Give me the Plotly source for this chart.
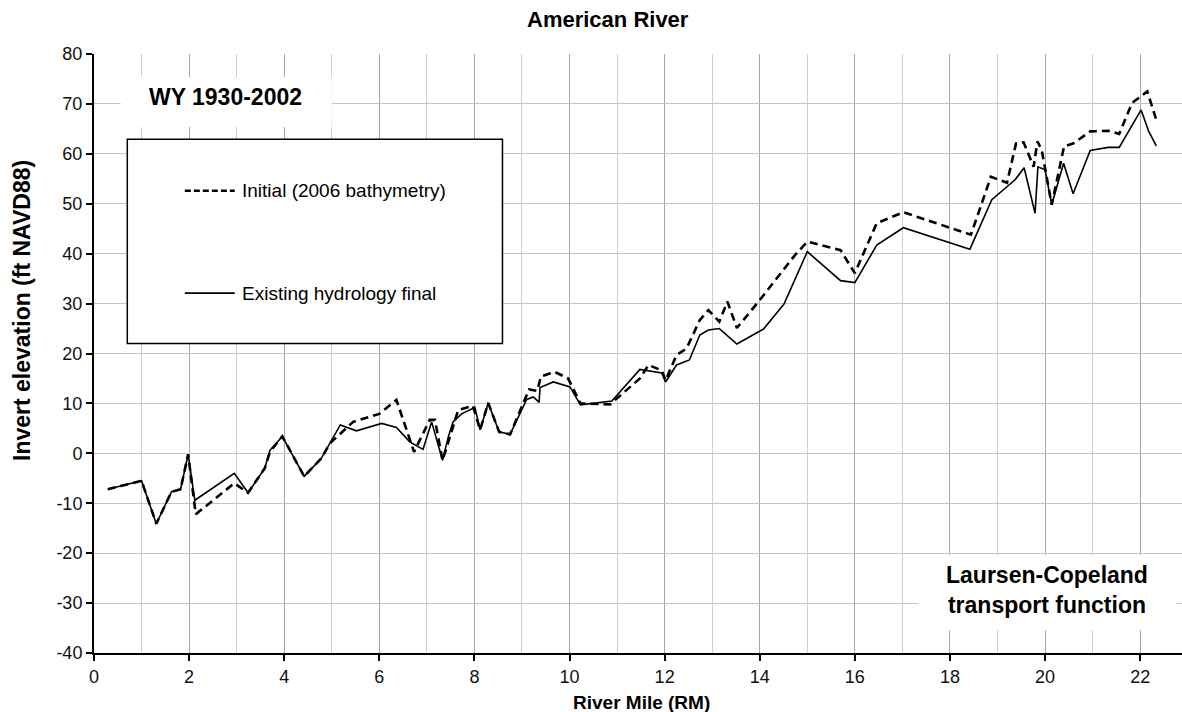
import plotly.graph_objects as go

# ---- data ----
rm_final = [0.29, 1.0, 1.31, 1.63, 1.82, 1.98, 2.12, 2.95, 3.24, 3.59, 3.70, 3.96, 4.42, 4.78,
            5.18, 5.52, 6.05, 6.36, 6.64, 6.92, 7.10, 7.33, 7.45, 7.55, 7.73, 8.01, 8.12, 8.29,
            8.52, 8.75, 9.10, 9.24, 9.36, 9.38, 9.66, 10.01, 10.23, 10.89, 11.48, 11.94, 12.02,
            12.25, 12.52, 12.74, 12.92, 13.15, 13.52, 14.08, 14.51, 15.0, 15.70, 16.0, 16.46,
            17.02, 18.42, 18.88, 19.37, 19.56, 19.79, 19.85, 20.0, 20.14, 20.39, 20.59, 20.95,
            21.33, 21.56, 22.02, 22.18, 22.34]
elev_final = [-7.2, -5.5, -14.1, -7.7, -7.2, -0.2, -9.4, -4.0, -7.9, -3.0, 0.6, 3.4, -4.6, -1.0,
              5.7, 4.5, 6.0, 5.2, 2.3, 0.8, 6.3, -1.4, 3.3, 6.3, 7.9, 9.2, 4.7, 10.1,
              4.3, 3.8, 10.8, 11.3, 10.2, 13.2, 14.3, 13.3, 9.7, 10.5, 16.8, 16.1, 14.3,
              17.7, 18.7, 23.7, 24.7, 25.0, 21.9, 24.9, 29.9, 40.4, 34.6, 34.2, 41.7,
              45.2, 40.9, 50.8, 54.8, 57.2, 48.1, 57.4, 56.8, 49.8, 58.1, 52.0, 60.7,
              61.3, 61.3, 68.8, 64.5, 61.6]

rm_initial = [0.29, 1.0, 1.31, 1.63, 1.82, 1.98, 2.14, 2.95, 3.24, 3.59, 3.70, 3.96, 4.42, 4.78,
              4.96, 5.45, 6.0, 6.36, 6.73, 7.06, 7.17, 7.33, 7.66, 7.97, 8.12, 8.29, 8.52, 8.75,
              9.15, 9.32, 9.40, 9.69, 9.97, 10.23, 10.85, 11.2, 11.48, 11.66, 11.94, 12.02,
              12.25, 12.46, 12.74, 12.92, 13.15, 13.32, 13.52, 14.0, 14.74, 15.0, 15.70, 16.0,
              16.46, 17.02, 18.44, 18.67, 18.86, 19.2, 19.39, 19.55, 19.76, 19.84, 19.93, 20.14,
              20.40, 20.6, 20.95, 21.33, 21.56, 21.83, 22.15, 22.35]
elev_initial = [-7.2, -5.5, -14.1, -7.7, -7.2, -0.2, -12.2, -6.0, -7.9, -3.0, 0.3, 3.4, -4.6, -1.0,
                2.0, 6.3, 7.9, 10.7, 0.3, 6.7, 6.7, -1.4, 8.7, 9.5, 4.7, 10.1, 4.3, 3.8,
                12.8, 12.5, 15.4, 16.3, 15.0, 10.0, 9.8, 12.8, 15.0, 17.7, 16.6, 14.6,
                19.7, 21.0, 26.7, 28.7, 26.4, 30.4, 25.1, 30.7, 39.7, 42.4, 40.7, 36.1,
                46.1, 48.3, 43.8, 50.1, 55.4, 54.2, 62.1, 62.3, 57.4, 62.5, 60.8, 49.8,
                61.5, 62.1, 64.5, 64.6, 64.0, 70.2, 72.5, 66.5]

series_names = ["Initial (2006 bathymetry)", "Existing hydrology final"]
x_ticks = list(range(0, 23, 2))
x_tick_labels = [str(v) for v in x_ticks]
y_ticks = list(range(-40, 81, 10))
y_tick_labels = ["-40", "-30", "-20", "-10", "0", "10", "20", "30", "40", "50", "60", "70", "80"]

FONT = "Liberation Sans, Arial, sans-serif"

fig = go.Figure()
fig.add_trace(go.Scatter(x=rm_final, y=elev_final, mode="lines", name=series_names[1],
                         line=dict(color="black", width=1.6), showlegend=False))
fig.add_trace(go.Scatter(x=rm_initial, y=elev_initial, mode="lines", name=series_names[0],
                         line=dict(color="black", width=2.6, dash="8px,5px"), showlegend=False))

# Custom legend box (data coordinates)
fig.add_shape(type="rect", x0=0.70, x1=8.59, y0=22.0, y1=62.9, xref="x", yref="y",
              fillcolor="white", line=dict(color="black", width=1.5), layer="above")
fig.add_shape(type="line", x0=1.91, x1=2.96, y0=52.6, y1=52.6, xref="x", yref="y",
              line=dict(color="black", width=2.6, dash="6px,3px"), layer="above")
fig.add_shape(type="line", x0=1.91, x1=2.96, y0=32.1, y1=32.1, xref="x", yref="y",
              line=dict(color="black", width=1.6), layer="above")
fig.add_annotation(x=3.06, y=52.6, xref="x", yref="y", text=series_names[0], showarrow=False,
                   xanchor="left", yanchor="middle", font=dict(family=FONT, size=19, color="black"))
fig.add_annotation(x=3.06, y=32.1, xref="x", yref="y", text=series_names[1], showarrow=False,
                   xanchor="left", yanchor="middle", font=dict(family=FONT, size=19, color="black"))

# WY box
fig.add_shape(type="rect", x0=0.56, x1=5.0, y0=65.4, y1=75.4, xref="x", yref="y",
              fillcolor="white", line=dict(width=0), layer="above")
fig.add_annotation(x=2.76, y=71.4, xref="x", yref="y", text="<b>WY 1930-2002</b>", showarrow=False,
                   xanchor="center", yanchor="middle", font=dict(family=FONT, size=23, color="black"))

# Laursen box
fig.add_shape(type="rect", x0=17.33, x1=22.76, y0=-35.45, y1=-20.3, xref="x", yref="y",
              fillcolor="white", line=dict(width=0), layer="above")
fig.add_annotation(x=20.04, y=-27.4, xref="x", yref="y",
                   text="<b>Laursen-Copeland<br>transport function</b>", showarrow=False,
                   xanchor="center", yanchor="middle", align="center",
                   font=dict(family=FONT, size=23, color="black"))

W, H = 1182, 712
L, R, T, B = 94, 0, 54, 59
pw, ph = W - L - R, H - T - B

def px_to_paper(px, py):
    return (px - L) / pw, (H - B - py) / ph

tx, ty = px_to_paper(608, 19)
fig.add_annotation(x=tx, y=ty, xref="paper", yref="paper", text="<b>American River</b>",
                   showarrow=False, xanchor="center", yanchor="middle",
                   font=dict(family=FONT, size=22, color="black"))

ax, ay = px_to_paper(641, 702)
fig.add_annotation(x=ax, y=ay, xref="paper", yref="paper", text="<b>River Mile (RM)</b>",
                   showarrow=False, xanchor="center", yanchor="middle",
                   font=dict(family=FONT, size=19, color="black"))
yx, yy = px_to_paper(22, 311)
fig.add_annotation(x=yx, y=yy, xref="paper", yref="paper", text="<b>Invert elevation (ft NAVD88)</b>",
                   showarrow=False, xanchor="center", yanchor="middle", textangle=-90,
                   font=dict(family=FONT, size=23, color="black"))

fig.update_layout(
    width=W, height=H,
    margin=dict(l=L, r=R, t=T, b=B),
    paper_bgcolor="white", plot_bgcolor="white",
    font=dict(family=FONT, size=18, color="#111"),
    xaxis=dict(range=[0, 22.88], tickvals=x_ticks, ticktext=x_tick_labels, ticks="outside",
               ticklen=6, tickwidth=1.5,
               tickcolor="black", showline=True, linecolor="black", linewidth=2,
               showgrid=True, gridcolor="#a8a8a8", gridwidth=1.2, zeroline=False,
               minor=dict(dtick=1, showgrid=True, gridcolor="#cfcfcf", gridwidth=1.2),
               tickfont=dict(family=FONT, size=18, color="#111")),
    yaxis=dict(range=[-40, 80], tickvals=y_ticks, ticktext=y_tick_labels, ticks="outside",
               ticklen=6, tickwidth=1.5,
               tickcolor="black", showline=True, linecolor="black", linewidth=2,
               showgrid=True, gridcolor="#c4c4c4", gridwidth=1.3, zeroline=False,
               tickfont=dict(family=FONT, size=18, color="#111")),
    showlegend=False,
)

fig.write_html("out.html")
